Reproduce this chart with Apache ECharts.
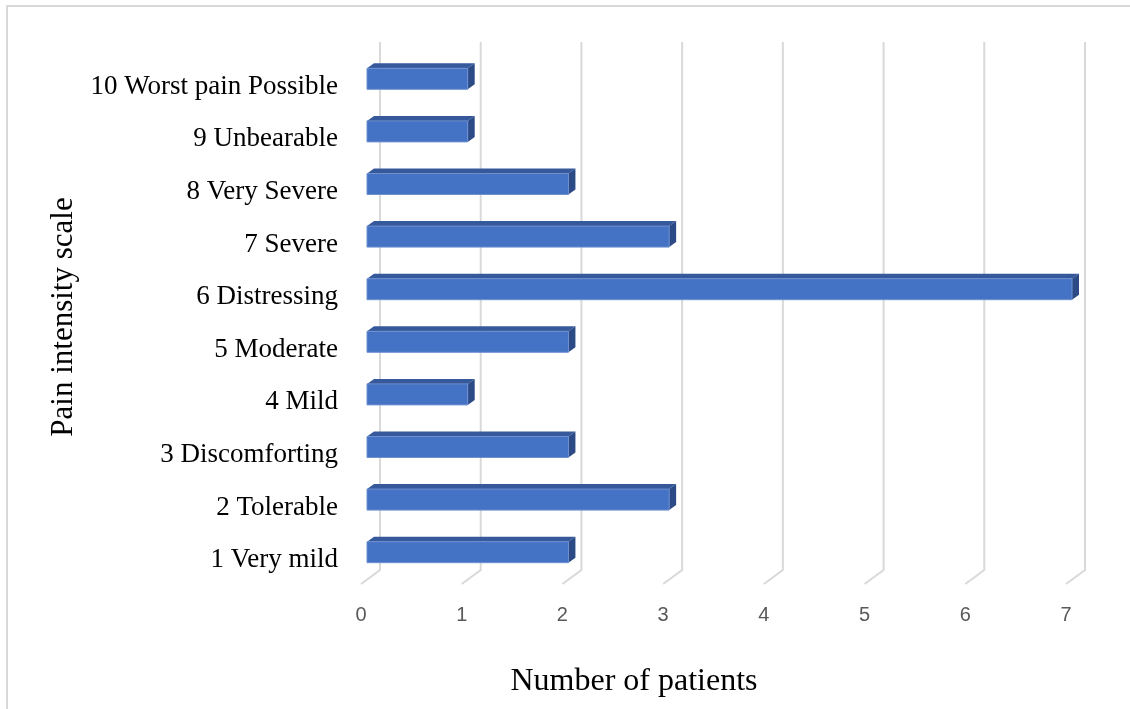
<!DOCTYPE html>
<html>
<head>
<meta charset="utf-8">
<title>Pain intensity scale</title>
<script src="https://cdn.jsdelivr.net/npm/echarts@6/dist/echarts.min.js"></script>
<style>
  html, body { margin: 0; padding: 0; background: #ffffff; }
  #chart { width: 1130px; height: 709px; }
</style>
</head>
<body>
<div id="chart"></div>
<script>
// Pain intensity categories, listed bottom to top
const categories = [
  '1 Very mild',
  '2 Tolerable',
  '3 Discomforting',
  '4 Mild',
  '5 Moderate',
  '6 Distressing',
  '7 Severe',
  '8 Very Severe',
  '9 Unbearable',
  '10 Worst pain Possible'
];
// Number of patients per category
const patients = [2, 3, 2, 1, 2, 7, 3, 2, 1, 1];
// Value-axis ticks
const xTicks = [0, 1, 2, 3, 4, 5, 6, 7];

// Pseudo-3D depth of the plot floor and of the bars
const FLOOR_DX = 19, FLOOR_DY = -14;
const BAR_DX = 7, BAR_DY = -5;
const BAR_SHIFT_X = 6, BAR_SHIFT_Y = -5.5;
const BAR_H = 21;

const serifFont = '"Liberation Serif", "Times New Roman", serif';

const chart = echarts.init(document.getElementById('chart'), null, { renderer: 'canvas' });

// Gridline: diagonal on the floor, then vertical up the back wall
function renderGridline(params, api) {
  const cs = params.coordSys;
  const x = api.coord([api.value(0), 0])[0];
  const bottom = cs.y + cs.height;
  const top = cs.y;
  return {
    type: 'polyline',
    shape: {
      points: [
        [x, bottom],
        [x + FLOOR_DX, bottom + FLOOR_DY],
        [x + FLOOR_DX, top - 16]
      ]
    },
    style: { stroke: '#d9d9d9', lineWidth: 2, fill: null }
  };
}

// 3D bar: front face, top face and right side face
function renderBar(params, api) {
  const v = api.value(0);
  const c = api.value(1);
  const p0 = api.coord([0, c]);
  const p1 = api.coord([v, c]);
  const x0 = p0[0] + BAR_SHIFT_X;
  const x1 = p1[0] + BAR_SHIFT_X;
  const yc = p0[1] + BAR_SHIFT_Y;
  const yt = yc - BAR_H / 2;
  const yb = yc + BAR_H / 2;
  return {
    type: 'group',
    children: [
      {
        type: 'polygon',
        shape: { points: [[x0, yt], [x1, yt], [x1 + BAR_DX, yt + BAR_DY], [x0 + BAR_DX, yt + BAR_DY]] },
        style: { fill: '#36599c' }
      },
      {
        type: 'polygon',
        shape: { points: [[x1, yt], [x1 + BAR_DX, yt + BAR_DY], [x1 + BAR_DX, yb + BAR_DY], [x1, yb]] },
        style: { fill: '#2c4a86' }
      },
      {
        type: 'rect',
        shape: { x: x0, y: yt, width: x1 - x0, height: BAR_H },
        style: { fill: '#4472c4', stroke: '#6f90cf', lineWidth: 1 }
      }
    ]
  };
}

const option = {
  backgroundColor: '#ffffff',
  animation: false,
  grid: { left: 361, right: 64, top: 58, bottom: 125 },
  xAxis: {
    type: 'value',
    min: 0,
    max: 7,
    interval: 1,
    axisLine: { show: false },
    axisTick: { show: false },
    splitLine: { show: false },
    axisLabel: {
      margin: 21,
      color: '#595959',
      fontSize: 20,
      fontFamily: '"Liberation Sans", "Noto Sans", sans-serif'
    }
  },
  yAxis: {
    type: 'category',
    data: categories,
    axisLine: { show: false },
    axisTick: { show: false },
    splitLine: { show: false },
    axisLabel: {
      margin: 23,
      color: '#000000',
      fontSize: 27,
      fontFamily: serifFont,
      formatter: function (name) { return '{c|' + name + '}'; },
      rich: {
        c: {
          color: '#000000',
          fontSize: 27,
          fontFamily: serifFont,
          padding: [5, 0, 0, 0]
        }
      }
    }
  },
  series: [
    {
      type: 'custom',
      z: 1,
      silent: true,
      data: xTicks.map(function (t) { return [t, 0]; }),
      encode: { x: 0, y: 1 },
      renderItem: renderGridline
    },
    {
      type: 'custom',
      z: 2,
      data: patients.map(function (v, i) { return [v, i]; }),
      encode: { x: 0, y: 1 },
      renderItem: renderBar
    }
  ],
  graphic: [
    // chart-area border (top and left edges)
    {
      type: 'polyline',
      shape: { points: [[7, 709], [7, 6], [1130, 6]] },
      style: { stroke: '#d9d9d9', lineWidth: 2, fill: null },
      silent: true
    },
    {
      type: 'text',
      x: 634,
      y: 682,
      style: {
        text: 'Number of patients',
        fill: '#000000',
        font: '32px ' + serifFont,
        align: 'center',
        verticalAlign: 'middle'
      }
    },
    {
      type: 'text',
      x: 64,
      y: 317,
      rotation: Math.PI / 2,
      style: {
        text: 'Pain intensity scale',
        fill: '#000000',
        font: '31px ' + serifFont,
        align: 'center',
        verticalAlign: 'middle'
      }
    }
  ]
};

chart.setOption(option);
</script>
</body>
</html>
